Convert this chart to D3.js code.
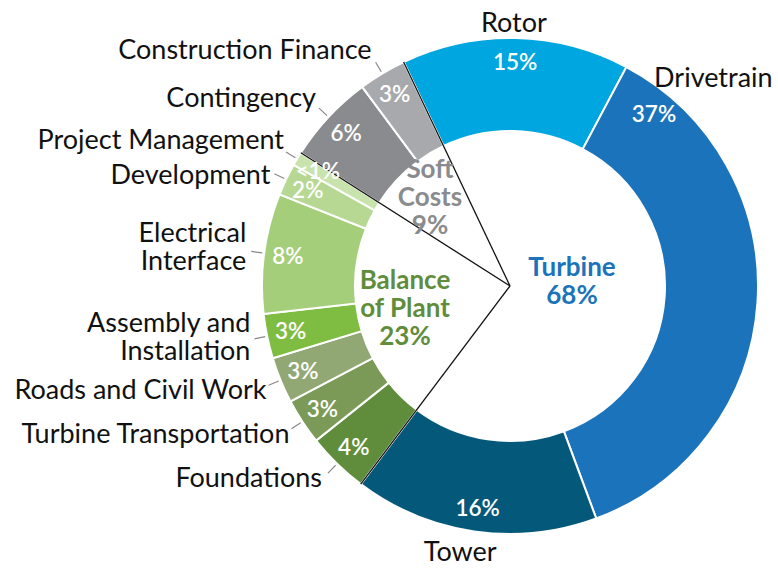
<!DOCTYPE html>
<html>
<head>
<meta charset="utf-8">
<script src="https://cdn.jsdelivr.net/npm/d3@7"></script>
<style>
  body { margin: 0; background: #fff; }
  svg { display: block; font-family: Lato, "Open Sans", sans-serif; }
</style>
</head>
<body>
<div id="chart"></div>
<script>
// cost breakdown, clockwise from the top
var categories = ["Rotor", "Drivetrain", "Tower", "Foundations", "Turbine Transportation",
    "Roads and Civil Work", "Assembly and Installation", "Electrical Interface",
    "Development", "Project Management", "Contingency", "Construction Finance"];
var shares = [14.8, 36.5, 15.9, 4.0, 3.0, 3.0, 2.9, 7.8, 2.1, 0.9, 5.8, 3.1];
var shareLabels = ["15%", "37%", "16%", "4%", "3%", "3%", "3%", "8%", "2%", "<1%", "6%", "3%"];
var groupOf = ["Turbine", "Turbine", "Turbine", "Balance of Plant", "Balance of Plant",
    "Balance of Plant", "Balance of Plant", "Balance of Plant", "Balance of Plant",
    "Balance of Plant", "Soft Costs", "Soft Costs"];
var groups = ["Turbine", "Balance of Plant", "Soft Costs"];
var groupShares = ["68%", "23%", "9%"];

var colors = ["#00a6df", "#1b74bb", "#04597a", "#5f8d3b", "#7b9a58", "#92a874",
    "#7fbc42", "#a5ce7a", "#b6d892", "#c9e3ad", "#8a8b8e", "#a7a9ac"];
var groupColors = {"Turbine": "#1b74bb", "Balance of Plant": "#5f8d3b", "Soft Costs": "#8a8b8e"};

const width = 778, height = 569;
const cx = 510, cy = 286;
const rIn = 155, rOut = 248;
const deg = Math.PI / 180;
const start = -25.4 * deg;

// label placement relative to the leader end (r = 261)
var labelLayout = {
    "Rotor": {anchor: "middle", dx: -2, dy: 7, leader: false},
    "Drivetrain": {anchor: "start", dx: -13, dy: 9, leader: false, angle: 37},
    "Tower": {anchor: "middle", dx: -12, dy: 17, leader: false},
    "Foundations": {anchor: "end", dx: -6, dy: 14},
    "Turbine Transportation": {anchor: "end", dx: -2, dy: 14},
    "Roads and Civil Work": {anchor: "end", dx: -2, dy: 14},
    "Assembly and Installation": {anchor: "end", dx: -4, dy: -7, lines: ["Assembly and", "Installation"]},
    "Electrical Interface": {anchor: "end", dx: -5, dy: -9, lines: ["Electrical", "Interface"]},
    "Development": {anchor: "end", dx: -4, dy: 10},
    "Project Management": {anchor: "end", dx: -2, dy: -3},
    "Contingency": {anchor: "end", dx: -3, dy: -1},
    "Construction Finance": {anchor: "end", dx: -4, dy: -3}
};
var pctAngle = {"Drivetrain": 40};

var data = categories.map(function(c, i) {
    return {name: c, value: shares[i], label: shareLabels[i], group: groupOf[i], color: colors[i]};
});

var pie = d3.pie().sort(null).value(function(d) { return d.value; })
    .startAngle(start).endAngle(start + 2 * Math.PI);
var arcs = pie(data);

var arc = d3.arc().innerRadius(rIn).outerRadius(rOut);

var svg = d3.select('#chart').append('svg')
    .attr('width', width).attr('height', height);
var g = svg.append('g').attr('transform', 'translate(' + cx + ',' + cy + ')');

function polar(a, r) { return [r * Math.sin(a), -r * Math.cos(a)]; }

g.selectAll('.slice').data(arcs).enter().append('path')
    .attr('class', 'slice')
    .attr('d', arc)
    .style('fill', function(d) { return d.data.color; })
    .style('stroke', '#fff').style('stroke-width', 2);

// group boundaries: lines from the centre out to the outer edge
var bounds = arcs.filter(function(d, i) {
    var prev = arcs[(i + arcs.length - 1) % arcs.length];
    return prev.data.group != d.data.group;
}).map(function(d) { return d.startAngle; });

g.selectAll('.bound').data(bounds).enter().append('line')
    .attr('class', 'bound')
    .attr('x1', 0).attr('y1', 0)
    .attr('x2', function(a) { return polar(a, rOut)[0]; })
    .attr('y2', function(a) { return polar(a, rOut)[1]; })
    .style('stroke', '#111').style('stroke-width', 1.3);

// percentages in the ring
g.selectAll('.pct').data(arcs).enter().append('text')
    .attr('class', 'pct')
    .attr('transform', function(d) {
        var a = pctAngle[d.data.name] != null ? pctAngle[d.data.name] * deg : (d.startAngle + d.endAngle) / 2;
        var p = polar(a, 224);
        return 'translate(' + p[0] + ',' + (p[1] + 8) + ')';
    })
    .attr('text-anchor', 'middle')
    .style('fill', '#fff').style('font-size', '22.5px').style('font-weight', 600)
    .text(function(d) { return d.data.label; });

// leaders
var withLeader = arcs.filter(function(d) { return labelLayout[d.data.name].leader !== false; });
g.selectAll('.leader').data(withLeader).enter().append('line')
    .attr('class', 'leader')
    .attr('x1', function(d) { return polar((d.startAngle + d.endAngle) / 2, rOut + 2)[0]; })
    .attr('y1', function(d) { return polar((d.startAngle + d.endAngle) / 2, rOut + 2)[1]; })
    .attr('x2', function(d) { return polar((d.startAngle + d.endAngle) / 2, 261)[0]; })
    .attr('y2', function(d) { return polar((d.startAngle + d.endAngle) / 2, 261)[1]; })
    .style('stroke', '#888').style('stroke-width', 1.2);

// category names
var names = g.selectAll('.name').data(arcs).enter().append('text')
    .attr('class', 'name')
    .attr('text-anchor', function(d) { return labelLayout[d.data.name].anchor; })
    .attr('transform', function(d) {
        var L = labelLayout[d.data.name];
        var a = L.angle != null ? L.angle * deg : (d.startAngle + d.endAngle) / 2;
        var p = polar(a, 261);
        return 'translate(' + (p[0] + L.dx) + ',' + (p[1] + L.dy) + ')';
    })
    .style('fill', '#111').style('font-size', '27px');

names.each(function(d) {
    var L = labelLayout[d.data.name];
    var lines = L.lines || [d.data.name];
    d3.select(this).selectAll('tspan').data(lines).enter().append('tspan')
        .attr('x', 0).attr('dy', function(t, i) { return i ? 28 : 0; })
        .text(function(t) { return t; });
});

// group totals in the middle
var groupPos = {
    "Turbine": {x: 62, y: -10, lines: ["Turbine"]},
    "Balance of Plant": {x: -105, y: 3, lines: ["Balance", "of Plant"]},
    "Soft Costs": {x: -80, y: -108, lines: ["Soft", "Costs"]}
};
groups.forEach(function(name, i) {
    var P = groupPos[name];
    var t = g.append('text')
        .attr('class', 'group')
        .attr('text-anchor', 'middle')
        .attr('transform', 'translate(' + P.x + ',' + P.y + ')')
        .style('fill', groupColors[name]).style('font-size', '26px').style('font-weight', 700);
    P.lines.concat([groupShares[i]]).forEach(function(s, j) {
        t.append('tspan').attr('x', 0).attr('dy', j ? 28 : 0).text(s);
    });
});
</script>
</body>
</html>
